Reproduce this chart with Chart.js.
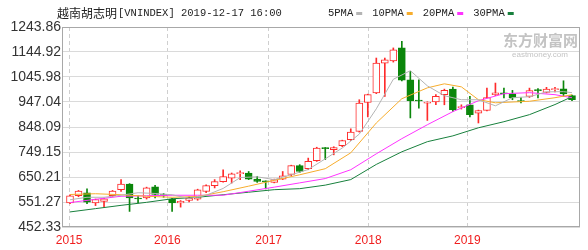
<!DOCTYPE html>
<html>
<head>
<meta charset="utf-8">
<script src="https://cdn.jsdelivr.net/npm/chart.js@4/dist/chart.umd.min.js"></script>
<style>
  body { margin: 0; background: #fff; }
  canvas { display: block; }
</style>
</head>
<body>
<canvas id="kline" width="588" height="250"></canvas>
<script>
// 越南胡志明 VNINDEX 月K线 2015-01 ~ 2019-12
const titleCn = '越南胡志明';
const titleEn = '[VNINDEX] 2019-12-17 16:00';
const years = ['2015', '2016', '2017', '2018', '2019'];
const yearTickAt = [-0.1, 11.45, 23.35, 35.05, 46.7]; // 年份刻度所在的月序号
const yTicks = [452.33, 551.27, 650.21, 749.15, 848.09, 947.04, 1045.98, 1144.92, 1243.86];

const openP  = [548,576,588,548,554,576,600,622,567,567,611,581, 563,548,558,562,593,616,632,646,663,666,642,635,
                629,642,660,695,683,715,767,758,774,798,831,945, 983,1101,1110,1161,1035,954,942,947,976,998,925,936,
                903,914,976,983,979,953,969,996,985,996,999,972];
const closeP = [576,594,551,561,564,594,622,567,563,607,581,577, 548,554,566,599,616,632,652,663,668,642,633,631,
                640,655,695,672,712,765,762,767,794,828,943,976, 1101,1114,1154,1033,952,951,946,969,993,917,928,897,
                913,965,983,979,963,949,992,992,998,999,979,956];
const highP  = [580,597,603,563,567,597,640,624,576,610,617,585, 566,557,572,602,619,640,679,666,675,672,653,635,
                642,672,697,699,725,768,767,770,796,841,956,978, 1121,1121,1161,1187,1068,1035,948,976,998,1006,936,969,
                915,1002,1022,1002,993,965,1002,1000,1005,1005,1031,974];
const lowP   = [545,572,545,537,531,572,593,514,548,563,567,570, 514,531,552,558,588,607,630,626,640,640,629,603,
                627,640,655,668,679,712,719,738,770,795,828,888, 980,969,1105,1030,884,923,874,936,936,910,919,888,
                864,912,972,963,956,943,965,963,983,987,969,952];

// 均线 [月序号, 数值]
const ma5  = [[0,560],[2,570],[4,570],[6,578],[8,588],[10,585],[12,580],[14,565],[16,578],[18,605],[20,648],[22,651],
              [24,640],[26,659],[28,680],[30,722],[32,765],[34,820],[36,920],[38,1037],[40,1071],[42,1011],[44,972],
              [46,956],[48,956],[50,932],[52,964],[54,968],[56,987],[58,988],[59,984]];
const ma10 = [[0,581],[3,584],[6,580],[9,574],[12,570],[15,573],[18,592],[21,614],[24,637],[27,659],[30,683],[33,746],
              [36,864],[39,960],[42,1003],[44,1019],[46,1007],[48,956],[50,944],[54,950],[57,964],[59,976]];
const ma20 = [[0,549],[3,562],[6,574],[9,576],[12,578],[15,578],[18,578],[21,594],[24,610],[27,627],[30,644],[33,679],
              [36,742],[39,802],[42,857],[45,909],[48,952],[51,980],[54,984],[57,976],[59,964]];
const ma30 = [[0,512],[3,525],[6,538],[9,550],[12,564],[15,570],[18,580],[21,590],[24,600],[27,604],[30,618],[33,640],
              [36,700],[39,750],[42,790],[45,813],[48,845],[51,869],[54,897],[57,937],[59,968]];

const RED = '#ff2b2b';
const GREEN = '#0b860b';
const maColors = ['#b4b4b4', '#f7ad2d', '#ff33ff', '#18803d'];
const maNames = ['5PMA', '10PMA', '20PMA', '30PMA'];

const isUp = i => closeP[i] >= openP[i];
const toPts = arr => arr.map(p => ({ x: p[0], y: p[1] }));

const bodies = openP.map((o, i) => ({ x: i, y: [o, closeP[i]] }));
const wicks = lowP.map((l, i) => ({ x: i, y: [l, highP[i]] }));

function maSet(name, data, color) {
    return {
        type: 'line', label: name, data: toPts(data),
        borderColor: color, borderWidth: 1, pointRadius: 0, tension: 0, order: 0
    };
}

// 标题、图例、水印、边框
const decor = {
    id: 'decor',
    afterDraw(chart) {
        const c = chart.ctx;
        const a = chart.chartArea;
        c.save();
        c.strokeStyle = '#a8a8a8';
        c.lineWidth = 1;
        c.strokeRect(a.left + 0.5, a.top + 0.5, a.right - a.left - 1, a.bottom - a.top - 1);

        c.textBaseline = 'middle';
        c.fillStyle = '#222';
        c.font = '12px "Noto Sans CJK SC"';
        c.fillText(titleCn, 57, 13);
        let x = 57 + c.measureText(titleCn).width + 1;
        c.font = '10.5px "Liberation Mono", monospace';
        c.fillText(titleEn, x, 13);

        x = 328;
        maNames.forEach((n, k) => {
            c.fillStyle = '#222';
            c.fillText(n, x, 13);
            x += c.measureText(n).width + 3;
            c.fillStyle = maColors[k];
            c.fillRect(x, 12, 6, 3);
            x += 6 + 10;
        });

        // 水印
        c.fillStyle = 'rgba(175,175,175,0.75)';
        c.font = 'bold 15px "Noto Sans CJK SC"';
        c.fillText('东方财富网', 503, 40);
        c.font = '8px "Liberation Sans"';
        c.fillText('eastmoney.com', 512, 55);
        c.restore();
    }
};

new Chart(document.getElementById('kline'), {
    type: 'bar',
    data: {
        datasets: [
            maSet('5PMA', ma5, maColors[0]),
            maSet('10PMA', ma10, maColors[1]),
            maSet('20PMA', ma20, maColors[2]),
            maSet('30PMA', ma30, maColors[3]),
            {
                label: 'K', data: bodies, order: 1,
                barThickness: 7, grouped: false, minBarLength: 1,
                borderWidth: 1, borderSkipped: false,
                backgroundColor: c => isUp(c.dataIndex) ? '#ffffff' : GREEN,
                borderColor: c => isUp(c.dataIndex) ? RED : GREEN
            },
            {
                label: 'wick', data: wicks, order: 2,
                barThickness: 1, grouped: false, borderWidth: 0,
                backgroundColor: c => isUp(c.dataIndex) ? RED : GREEN
            }
        ]
    },
    options: {
        responsive: false,
        animation: false,
        events: [],
        layout: { padding: { top: 27, right: 8, left: 0, bottom: 0 } },
        plugins: { legend: { display: false }, tooltip: { enabled: false } },
        scales: {
            x: {
                type: 'linear', min: -0.94, max: 59.94, offset: false,
                afterBuildTicks: ax => { ax.ticks = yearTickAt.map(v => ({ value: v })); },
                afterFit: ax => { ax.height = 23; },
                ticks: {
                    color: '#f01e1e', padding: 6, maxRotation: 0, autoSkip: false,
                    font: { family: 'Arial, "Liberation Sans"', size: 12 },
                    callback: (v, i) => years[i]
                },
                grid: { color: '#cfcfcf', drawTicks: false, offset: false },
                border: { display: false, dash: [4, 3] }
            },
            y: {
                min: 452.33, max: 1243.86,
                afterBuildTicks: ax => { ax.ticks = yTicks.map(v => ({ value: v })); },
                afterFit: ax => { ax.width = 62; },
                ticks: {
                    color: '#333', padding: 1,
                    font: { family: 'Arial, "Liberation Sans"', size: 14 },
                    callback: v => v.toFixed(2)
                },
                grid: { color: '#dadada', drawTicks: false },
                border: { display: false }
            }
        }
    },
    plugins: [decor]
});
</script>
</body>
</html>
